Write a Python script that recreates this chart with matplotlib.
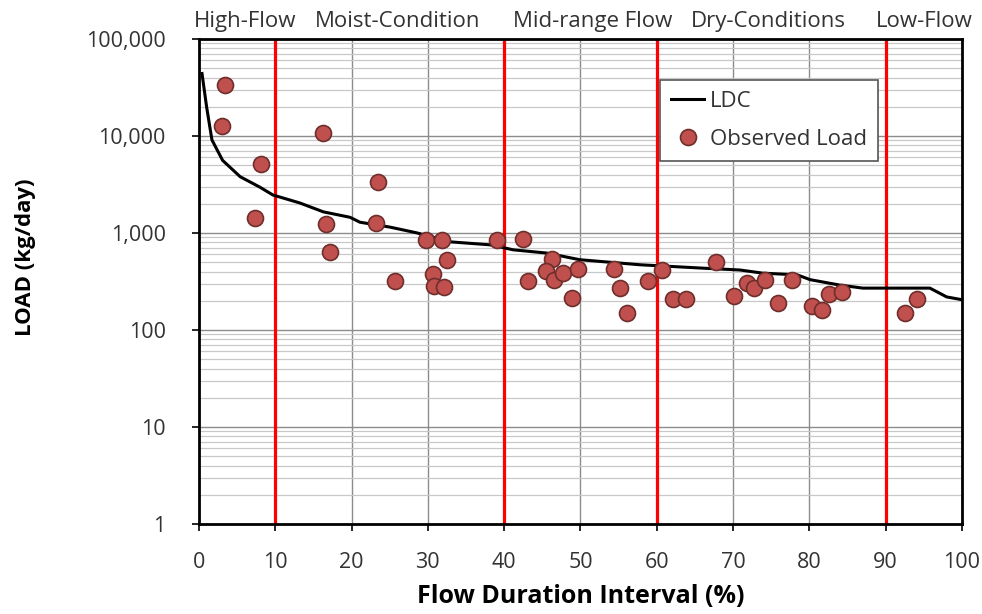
import numpy as np
import matplotlib
matplotlib.use('Agg')
import matplotlib.pyplot as plt
from matplotlib.ticker import FuncFormatter, LogLocator

# Load duration curve
ldc_x = [0.4, 1.0, 1.7, 3.1, 5.4, 8.0, 9.7, 13.2, 16.3, 19.8, 21.1, 25.0, 28.6,
         32.9, 38.1, 41.2, 45.6, 49.9, 57.8, 65.7, 70.9, 73.9, 78.4, 80.1, 84.0,
         87.0, 95.8, 98.0, 100.0]
ldc_y = [44000, 20000, 9100, 5600, 3800, 2960, 2460, 2040, 1650, 1450, 1290,
         1150, 1000, 810, 755, 670, 620, 530, 470, 435, 415, 385, 370, 330, 290,
         270, 270, 219, 205]

# Observed loads
obs_x = [3.4, 3.0, 8.1, 7.3, 16.3, 16.6, 17.2, 23.5, 23.2, 25.7, 29.7, 31.8,
         32.5, 30.7, 30.8, 32.1, 39.1, 42.5, 43.1, 46.3, 45.5, 46.5, 47.7, 49.7,
         48.9, 54.4, 55.2, 56.1, 58.8, 60.7, 62.1, 63.8, 67.8, 70.1, 71.8, 72.7,
         74.2, 75.9, 77.7, 80.3, 81.7, 82.6, 84.3, 92.5, 94.1]
obs_y = [33700, 12600, 5100, 1420, 10700, 1240, 640, 3370, 1260, 320, 850, 850,
         530, 380, 285, 277, 850, 870, 320, 540, 410, 330, 390, 425,
         214, 425, 270, 150, 320, 415, 209, 209, 500, 224, 303, 270,
         330, 190, 330, 177, 161, 235, 246, 150, 209]

zone_edges = [10, 40, 60, 90]
zone_names = ['High-Flow', 'Moist-Condition', 'Mid-range Flow', 'Dry-Conditions', 'Low-Flow']
zone_pos = [6, 26, 51.6, 74.6, 95]

plt.rcParams['font.family'] = ['Open Sans', 'DejaVu Sans']

fig = plt.figure(figsize=(9.82, 6.14), dpi=100)
ax = fig.add_axes([0.2026, 0.1466, 0.777, 0.79])

ax.set_yscale('log')
ax.set_xlim(0, 100)
ax.set_ylim(1, 100000)

# grid
ax.set_xticks(np.arange(0, 101, 10))
ax.yaxis.set_major_locator(LogLocator(base=10, numticks=10))
ax.yaxis.set_minor_locator(LogLocator(base=10, subs=np.arange(2, 10), numticks=20))
ax.grid(True, which='major', axis='x', color='#8c8c8c', linewidth=1)
ax.grid(True, which='major', axis='y', color='#8c8c8c', linewidth=1)
ax.grid(True, which='minor', axis='y', color='#c8c8c8', linewidth=0.9)
ax.set_axisbelow(True)

for xe in zone_edges:
    ax.axvline(xe, color='#ff0000', linewidth=2.3, zorder=2)

ax.plot(ldc_x, ldc_y, color='black', linewidth=2.2, label='LDC', zorder=3)
ax.plot(obs_x, obs_y, linestyle='none', marker='o', markersize=11.5,
        markerfacecolor='#c0504d', markeredgecolor='#6e2e2c', markeredgewidth=1.2,
        label='Observed Load', zorder=4)

ax.yaxis.set_major_formatter(FuncFormatter(lambda v, p: f'{int(round(v)):,}'))
ax.tick_params(axis='both', which='major', labelsize=15.5, length=5, width=1.2,
               direction='out', labelcolor='#333333')
ax.tick_params(axis='x', which='major', pad=15)
ax.tick_params(axis='y', which='major', pad=19)
ax.tick_params(axis='y', which='minor', length=0)
for s in ax.spines.values():
    s.set_linewidth(2)
    s.set_color('black')

ax.set_xlabel('Flow Duration Interval (%)', fontsize=18, fontweight='bold', labelpad=8)
ax.set_ylabel('LOAD (kg/day)', fontsize=16, fontweight='bold')
ax.yaxis.set_label_coords(-0.213, 0.55)

for name, pos in zip(zone_names, zone_pos):
    ax.text(pos, 1.015, name, transform=ax.get_xaxis_transform(), ha='center',
            va='bottom', fontsize=16, color='#333333')

leg = ax.legend(loc='upper right', bbox_to_anchor=(0.890, 0.915), borderaxespad=0,
                fontsize=16, frameon=True, fancybox=False, borderpad=0.5,
                handlelength=1.5, handletextpad=0.25, labelspacing=0.75)
leg.get_frame().set_edgecolor('#555555')
leg.get_frame().set_linewidth(1.2)
leg.get_frame().set_alpha(1)
for t in leg.get_texts():
    t.set_color('#333333')

fig.savefig('out.png', dpi=100)
